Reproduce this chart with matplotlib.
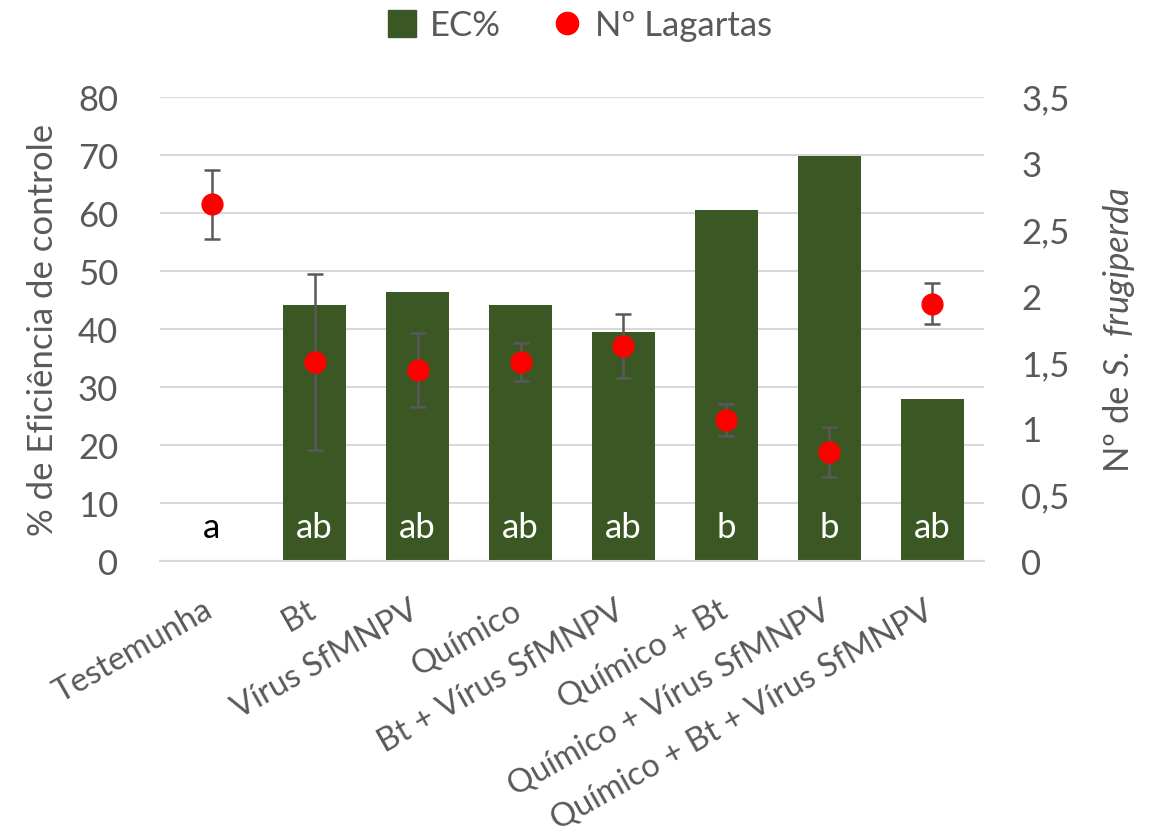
import matplotlib
matplotlib.use("Agg")
import matplotlib.pyplot as plt
import matplotlib.transforms as mtransforms
from matplotlib.lines import Line2D
from matplotlib.patches import Patch
import numpy as np

# dados
tratamentos = ["Testemunha", "Bt", "Vírus SfMNPV", "Químico", "Bt + Vírus SfMNPV",
               "Químico + Bt", "Químico + Vírus SfMNPV", "Químico + Bt + Vírus SfMNPV"]
ec = [0, 44.1, 46.4, 44.1, 39.5, 60.4, 69.8, 27.9]
lagartas = [2.69, 1.50, 1.44, 1.50, 1.62, 1.06, 0.82, 1.94]
erro = [0.26, 0.66, 0.28, 0.145, 0.24, 0.12, 0.19, 0.155]
letras = ["a", "ab", "ab", "ab", "ab", "b", "b", "ab"]

verde = "#3B5723"
cinza = "#595959"
fonte = "Lato"
tam = 25

plt.rcParams['font.family'] = [fonte, 'DejaVu Sans']
plt.rcParams['mathtext.fontset'] = 'custom'
plt.rcParams['mathtext.it'] = 'Lato:italic'
plt.rcParams['mathtext.rm'] = 'Lato'

fig = plt.figure(figsize=(11.53, 8.37), dpi=100)
ax = fig.add_axes([0.1388, 0.3286, 0.7146, 0.5547])
ax2 = ax.twinx()

x = np.arange(len(tratamentos))
ax.bar(x, ec, width=0.62, color=verde, zorder=2)
ax.set_ylim(0, 80)
ax.set_yticks(range(0, 81, 10))
ax.set_xlim(-0.5, len(tratamentos) - 0.5)
ax.grid(axis='y', color="#D9D9D9", linewidth=1.5, zorder=0)
ax.set_axisbelow(True)

for i, l in enumerate(letras):
    cor = "black" if ec[i] == 0 else "white"
    ax.text(x[i], 5.8, l, ha='center', va='center', fontsize=tam, color=cor, zorder=3)

ax2.errorbar(x, lagartas, yerr=erro, fmt='o', color='red', markersize=15,
             ecolor=cinza, elinewidth=1.8, capsize=6, capthick=1.8)
ax2.set_ylim(0, 3.5)
ax2.set_yticks(np.arange(0, 3.51, 0.5))
ax2.set_yticklabels(["0", "0,5", "1", "1,5", "2", "2,5", "3", "3,5"])

for a in (ax, ax2):
    for s in a.spines.values():
        s.set_visible(False)
    a.tick_params(length=0, labelsize=tam, labelcolor=cinza)
ax.spines['bottom'].set_visible(True)
ax.spines['bottom'].set_color("#D9D9D9")
ax.spines['bottom'].set_linewidth(1.5)
ax.tick_params(axis='y', pad=30)
ax2.tick_params(axis='y', pad=27)

ax.set_xticks(x)
ax.set_xticklabels(tratamentos, rotation=29.5, ha='right', va='top',
                   rotation_mode='anchor', fontsize=23.5)
ax.tick_params(axis='x', pad=24)
desloc = mtransforms.ScaledTranslation(-9 / 100, 0, fig.dpi_scale_trans)
for lab in ax.get_xticklabels():
    lab.set_transform(lab.get_transform() + desloc)

ax.set_ylabel("% de Eficiência de controle", fontsize=tam, color=cinza, labelpad=14)
ax2.set_ylabel("Nº de $\\mathit{S.}$ $\\mathit{frugiperda}$", fontsize=tam, color=cinza, labelpad=22)

handles = [Patch(color=verde),
           Line2D([], [], marker='o', color='red', linestyle='none', markersize=16)]
fig.legend(handles, ["EC%", "Nº Lagartas"], loc='upper center', bbox_to_anchor=(0.503, 1.025),
           ncol=2, frameon=False, fontsize=tam, labelcolor=cinza, handlelength=0.8,
           handleheight=0.8, handletextpad=0.4, columnspacing=1.5)

fig.savefig("out.png", dpi=100)
